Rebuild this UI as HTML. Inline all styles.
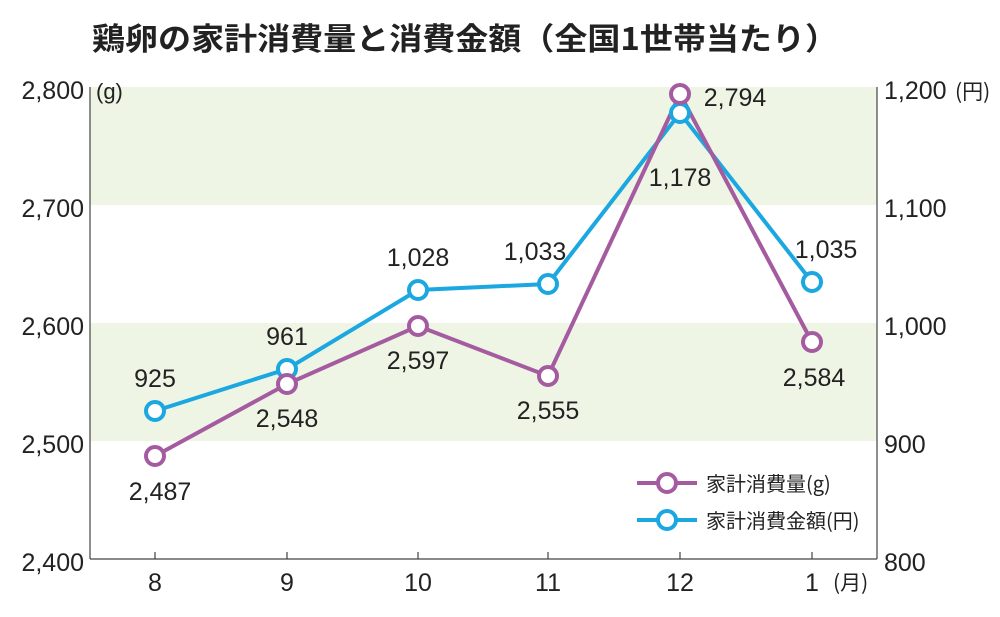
<!DOCTYPE html>
<html><head><meta charset="utf-8"><style>
body{margin:0;background:#fff;}
svg text{font-family:"Liberation Sans Narrow","Liberation Sans","Noto Sans CJK JP",sans-serif;fill:#222;}
</style></head><body>
<svg width="1000" height="612" viewBox="0 0 1000 612" xmlns="http://www.w3.org/2000/svg">
<text x="92" y="50" font-size="31" font-weight="bold" textLength="746" lengthAdjust="spacingAndGlyphs" style="font-family:'Noto Sans CJK JP',sans-serif">鶏卵の家計消費量と消費金額（全国1世帯当たり）</text>
<rect x="90" y="87" width="787" height="118" fill="#eef5e5"/>
<rect x="90" y="323" width="787" height="118" fill="#eef5e5"/>
<line x1="90" y1="87" x2="90" y2="559" stroke="#444" stroke-width="1.2"/>
<line x1="877" y1="87" x2="877" y2="559" stroke="#444" stroke-width="1.2"/>
<line x1="90" y1="559" x2="877" y2="559" stroke="#444" stroke-width="1.2"/>
<g stroke="#444" stroke-width="1.2">
<line x1="155" y1="559" x2="155" y2="552"/><line x1="287" y1="559" x2="287" y2="552"/><line x1="418" y1="559" x2="418" y2="552"/><line x1="548" y1="559" x2="548" y2="552"/><line x1="680" y1="559" x2="680" y2="552"/><line x1="812" y1="559" x2="812" y2="552"/>
</g>
<g font-size="25" text-anchor="end">
<text x="84" y="99">2,800</text><text x="84" y="217">2,700</text><text x="84" y="335">2,600</text><text x="84" y="453">2,500</text><text x="84" y="571">2,400</text>
</g>
<text x="96" y="99" font-size="22">(g)</text>
<g font-size="25">
<text x="884" y="99">1,200</text><text x="884" y="217">1,100</text><text x="884" y="335">1,000</text><text x="884" y="453">900</text><text x="884" y="571">800</text>
</g>
<text x="955" y="99" font-size="21" style="font-family:'Noto Sans CJK JP',sans-serif">(円)</text>
<g font-size="25" text-anchor="middle">
<text x="155" y="591">8</text><text x="287" y="591">9</text><text x="418" y="591">10</text><text x="548" y="591">11</text><text x="680" y="591">12</text><text x="812" y="591">1</text>
</g>
<text x="833" y="590" font-size="21" style="font-family:'Noto Sans CJK JP',sans-serif">(月)</text>
<polyline points="155,411 287,369 418,290 548,284 680,113 812,282" fill="none" stroke="#1ba7df" stroke-width="4"/>
<polyline points="155,456 287,384 418,326 548,376 680,94 812,342" fill="none" stroke="#a45ba0" stroke-width="4"/>
<g fill="#fff" stroke="#1ba7df" stroke-width="4">
<circle cx="155" cy="411" r="9"/><circle cx="287" cy="369" r="9"/><circle cx="418" cy="290" r="9"/><circle cx="548" cy="284" r="9"/><circle cx="680" cy="113" r="9"/><circle cx="812" cy="282" r="9"/>
</g>
<g fill="#fff" stroke="#a45ba0" stroke-width="4">
<circle cx="155" cy="456" r="9"/><circle cx="287" cy="384" r="9"/><circle cx="418" cy="326" r="9"/><circle cx="548" cy="376" r="9"/><circle cx="680" cy="94" r="9"/><circle cx="812" cy="342" r="9"/>
</g>
<g font-size="25" text-anchor="middle">
<text x="155" y="387">925</text><text x="287" y="345">961</text><text x="418" y="266">1,028</text><text x="535" y="260">1,033</text><text x="680" y="186">1,178</text><text x="826" y="258">1,035</text>
<text x="160" y="500">2,487</text><text x="287" y="427">2,548</text><text x="418" y="369">2,597</text><text x="548" y="419">2,555</text><text x="735" y="106">2,794</text><text x="814" y="386">2,584</text>
</g>
<line x1="637" y1="483" x2="697" y2="483" stroke="#a45ba0" stroke-width="4"/>
<circle cx="667" cy="483" r="9" fill="#fff" stroke="#a45ba0" stroke-width="4"/>
<line x1="637" y1="520" x2="697" y2="520" stroke="#1ba7df" stroke-width="4"/>
<circle cx="667" cy="520" r="9" fill="#fff" stroke="#1ba7df" stroke-width="4"/>
<text x="706" y="491" font-size="20" style="font-family:'Noto Sans CJK JP',sans-serif">家計消費量(g)</text>
<text x="706" y="528" font-size="20" style="font-family:'Noto Sans CJK JP',sans-serif">家計消費金額(円)</text>
</svg>
</body></html>
